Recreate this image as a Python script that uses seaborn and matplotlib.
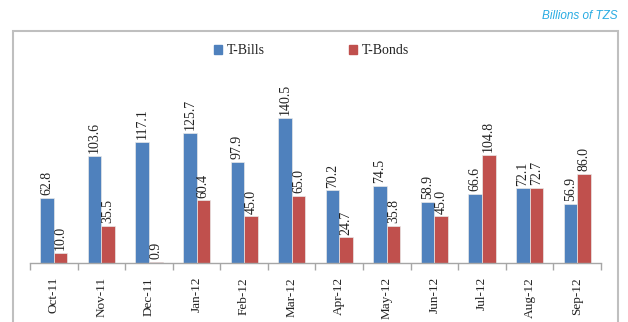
import matplotlib
matplotlib.use("Agg")
import matplotlib.pyplot as plt
from matplotlib.patches import Rectangle
import seaborn as sns
import pandas as pd
import numpy as np

months = ["Oct-11", "Nov-11", "Dec-11", "Jan-12", "Feb-12", "Mar-12",
          "Apr-12", "May-12", "Jun-12", "Jul-12", "Aug-12", "Sep-12"]
t_bills = [62.8, 103.6, 117.1, 125.7, 97.9, 140.5, 70.2, 74.5, 58.9, 66.6, 72.1, 56.9]
t_bonds = [10.0, 35.5, 0.9, 60.4, 45.0, 65.0, 24.7, 35.8, 45.0, 104.8, 72.7, 86.0]
series_names = ["T-Bills", "T-Bonds"]
colors = ["#4F81BD", "#C0504D"]

df = pd.DataFrame({
    "Month": months * 2,
    "Value": t_bills + t_bonds,
    "Series": [series_names[0]] * len(months) + [series_names[1]] * len(months),
})

sns.set_style("white")
plt.rcParams["font.family"] = ["Liberation Serif", "DejaVu Serif"]

fig = plt.figure(figsize=(6.28, 3.22), dpi=100)
ax = fig.add_axes([0.0478, 0.1832, 0.909, 0.6615])

sns.barplot(data=df, x="Month", y="Value", hue="Series", palette=colors,
            width=0.57, ax=ax, legend=False, edgecolor="#E8E8E8", linewidth=0.5,
            saturation=1)

for cont in ax.containers:
    ax.bar_label(cont, fmt="%.1f", rotation=90, padding=2, fontsize=10, color="#222222")

ax.set_ylim(0, 205.8)
ax.set_xlim(-0.5, len(months) - 0.5)
ax.set_xlabel("")
ax.set_ylabel("")
ax.set_yticks([])
for s in ["top", "right", "left"]:
    ax.spines[s].set_visible(False)
ax.spines["bottom"].set_color("#A6A6A6")
ax.spines["bottom"].set_linewidth(1)

ax.set_xticks(np.arange(len(months)))
ax.set_xticklabels(months, rotation=90, fontsize=9.5, color="#222222")
ax.tick_params(axis="x", which="major", length=0, pad=10)
ax.set_xticks(np.arange(-0.5, len(months)), minor=True)
ax.tick_params(axis="x", which="minor", length=5, color="#A6A6A6", width=1, direction="out")
ax.xaxis.set_ticks_position("bottom")

handles = [Rectangle((0, 0), 1, 1, color=c) for c in colors]
fig.legend(handles, series_names, loc="center", bbox_to_anchor=(0.496, 0.842),
           ncol=2, frameon=False, fontsize=10, handlelength=0.55, handleheight=0.55,
           handletextpad=0.35, columnspacing=6.1, labelcolor="#222222")

# outer frame
frame = Rectangle((13 / 628, -0.05), (618 - 13) / 628, 1.05 - 31 / 322 + 0.0,
                  transform=fig.transFigure, fill=False, edgecolor="#BFBFBF",
                  linewidth=1.5, clip_on=False)
fig.patches.append(frame)

fig.text(618 / 628, 1 - 16 / 322, "Billions of TZS", ha="right", va="center",
         fontsize=8.5, style="italic", color="#29ABE2",
         family=["Liberation Sans", "DejaVu Sans"])

fig.savefig("out.png", dpi=100)
